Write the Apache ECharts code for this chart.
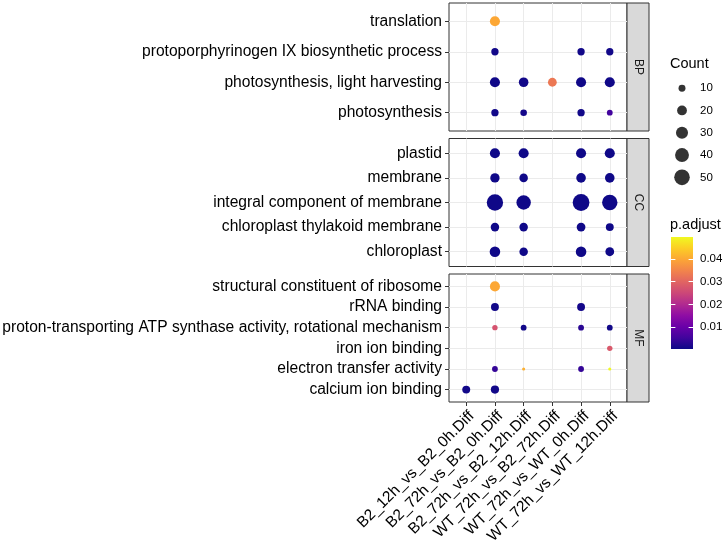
<!DOCTYPE html>
<html>
<head>
<meta charset="utf-8">
<script src="https://cdn.jsdelivr.net/npm/echarts@6/dist/echarts.min.js"></script>
<style>html,body{margin:0;padding:0;background:#fff;}#main{width:726px;height:543px;}</style>
</head>
<body>
<div id="main"></div>
<script>
// ---- data ----
const columns = ['B2_12h_vs_B2_0h.Diff','B2_72h_vs_B2_0h.Diff','B2_72h_vs_B2_12h.Diff','WT_72h_vs_B2_72h.Diff','WT_72h_vs_WT_0h.Diff','WT_72h_vs_WT_12h.Diff'];
const facets = ['BP','CC','MF'];

const bpTerms = ['translation','protoporphyrinogen IX biosynthetic process','photosynthesis, light harvesting','photosynthesis'];
const bpCount = [
  [null,21,null,null,null,null],
  [null,11,null,null,11,11],
  [null,21,19,16,21,21],
  [null,11,9,null,11,7]
];
const bpP = [
  [null,0.040,null,null,null,null],
  [null,0.0008,null,null,0.0008,0.0008],
  [null,0.0006,0.0008,0.033,0.0006,0.0006],
  [null,0.0008,0.0010,null,0.0008,0.0055]
];

const ccTerms = ['plastid','membrane','integral component of membrane','chloroplast thylakoid membrane','chloroplast'];
const ccCount = [
  [null,21,21,null,21,21],
  [null,18,15,null,19,19],
  [null,55,43,null,58,49],
  [null,15,15,null,16,13],
  [null,23,15,null,23,16]
];
const ccP = [
  [null,0.0005,0.0005,null,0.0005,0.0005],
  [null,0.0005,0.0005,null,0.0005,0.0005],
  [null,0.0005,0.0005,null,0.0005,0.0005],
  [null,0.0005,0.0005,null,0.0005,0.0005],
  [null,0.0005,0.0005,null,0.0005,0.0005]
];

const mfTerms = ['structural constituent of ribosome','rRNA binding','proton-transporting ATP synthase activity, rotational mechanism','iron ion binding','electron transfer activity','calcium ion binding'];
const mfCount = [
  [null,21,null,null,null,null],
  [null,13,null,null,13,null],
  [null,6,7,null,7,7],
  [null,null,null,null,null,6],
  [null,7,2,null,7,2],
  [13,14,null,null,null,null]
];
const mfP = [
  [null,0.040,null,null,null,null],
  [null,0.0008,null,null,0.0010,null],
  [null,0.027,0.0008,null,0.003,0.0008],
  [null,null,null,null,null,0.028],
  [null,0.004,0.041,null,0.004,0.0497],
  [0.0008,0.0008,null,null,null,null]
];

const legendCounts = [10,20,30,40,50];
const colorTicks = [0.01,0.02,0.03,0.04];
const pMin = 0.0003, pMax = 0.0497;
const plasma = ['#0D0887','#41049D','#6A00A8','#8F0DA4','#B12A90','#CC4778','#E16462','#F2844B','#FCA636','#FCCE25','#F0F921'];

// ---- layout ----
const FONT = "'Liberation Sans', Arial, Helvetica, sans-serif";
const panelLeft = 449, panelWidth = 178, panelHeight = 128;
const panelTops = [3, 138.5, 274];
const termsList = [bpTerms, ccTerms, mfTerms];
const countList = [bpCount, ccCount, mfCount];
const pList = [bpP, ccP, mfP];
const sizeOf = c => 2.2 * Math.sqrt(c);
const colIdx = columns.map((_, i) => i);

const grids = [], xAxes = [], yAxes = [], series = [], graphics = [];

panelTops.forEach((top, g) => {
  const terms = termsList[g];
  const rowIdx = terms.map((_, i) => i);
  grids.push({left: panelLeft, top: top, width: panelWidth, height: panelHeight, outerBoundsMode: 'none', containLabel: false,
    show: true, borderColor: '#333333', borderWidth: 1, backgroundColor: '#fff'});
  const isBottom = g === 2;
  xAxes.push({type: 'value', gridIndex: g, min: -0.6, max: columns.length - 0.4, position: 'bottom',
    axisLine: {show: false, onZero: false},
    axisTick: {show: isBottom, customValues: colIdx, length: 4, lineStyle: {color: '#333333'}},
    axisLabel: {show: isBottom, customValues: colIdx, formatter: v => columns[Math.round(v)] || '',
      rotate: 45, align: 'right', verticalAlign: 'top', margin: 6, fontSize: 15.5, color: '#000', fontFamily: FONT},
    splitLine: {show: true, lineStyle: {color: '#EBEBEB', width: 1}}
  });
  yAxes.push({type: 'value', gridIndex: g, inverse: true, min: -0.6, max: terms.length - 0.4, position: 'left',
    axisLine: {show: false, onZero: false},
    axisTick: {show: true, customValues: rowIdx, length: 4, lineStyle: {color: '#333333'}},
    axisLabel: {customValues: rowIdx, formatter: v => terms[Math.round(v)] || '',
      margin: 7, fontSize: 15.6, color: '#000', fontFamily: FONT},
    splitLine: {show: true, lineStyle: {color: '#EBEBEB', width: 1}}
  });
  const data = [];
  countList[g].forEach((row, r) => row.forEach((c, ci) => {
    if (c != null) data.push([ci, r, c, pList[g][r][ci]]);
  }));
  series.push({type: 'scatter', xAxisIndex: g, yAxisIndex: g, data: data,
    symbolSize: v => sizeOf(v[2]), itemStyle: {opacity: 1}, z: 5});
  // strip
  graphics.push({type: 'rect', shape: {x: panelLeft + panelWidth, y: top, width: 22, height: panelHeight},
    style: {fill: '#D9D9D9', stroke: '#333333', lineWidth: 1}});
  graphics.push({type: 'text', x: panelLeft + panelWidth + 11, y: top + panelHeight / 2, rotation: -Math.PI / 2,
    style: {text: facets[g], fill: '#1A1A1A', font: '12px ' + FONT, textAlign: 'center', textVerticalAlign: 'middle'}});
});

// size legend
grids.push({left: 670, top: 77, width: 24, height: 111.5, show: false, outerBoundsMode: 'none'});
xAxes.push({type: 'value', gridIndex: 3, min: -1, max: 1, show: false});
yAxes.push({type: 'category', gridIndex: 3, inverse: true, position: 'right', data: legendCounts.map(String),
  axisLine: {show: false}, axisTick: {show: false}, splitLine: {show: false},
  axisLabel: {margin: 6, fontSize: 11.5, color: '#000', fontFamily: FONT}});
series.push({type: 'scatter', xAxisIndex: 3, yAxisIndex: 3,
  data: legendCounts.map((c, i) => [0, i, c]), symbolSize: v => sizeOf(v[2]),
  itemStyle: {color: '#000'}});

// colour bar
grids.push({left: 671, top: 237, width: 22, height: 112, show: true, borderWidth: 0, outerBoundsMode: 'none',
  backgroundColor: {type: 'linear', x: 0, y: 1, x2: 0, y2: 0,
    colorStops: plasma.map((c, i) => ({offset: i / (plasma.length - 1), color: c}))}});
xAxes.push({type: 'value', gridIndex: 4, min: 0, max: 1, show: false});
yAxes.push({type: 'value', gridIndex: 4, min: pMin, max: pMax, position: 'right',
  axisLine: {show: false, onZero: false}, splitLine: {show: false},
  axisTick: {show: true, inside: true, length: 4.4, customValues: colorTicks, lineStyle: {color: '#fff', width: 1}},
  axisLabel: {customValues: colorTicks, formatter: v => v.toFixed(2), margin: 7, fontSize: 11.5, color: '#000', fontFamily: FONT}});
yAxes.push({type: 'value', gridIndex: 4, min: pMin, max: pMax, position: 'left',
  axisLine: {show: false, onZero: false}, splitLine: {show: false},
  axisTick: {show: true, inside: true, length: 4.4, customValues: colorTicks, lineStyle: {color: '#fff', width: 1}},
  axisLabel: {show: false}});

// legend titles
graphics.push({type: 'text', x: 670, y: 64, style: {text: 'Count', fill: '#000', font: '14.5px ' + FONT, textVerticalAlign: 'middle'}});
graphics.push({type: 'text', x: 670, y: 225, style: {text: 'p.adjust', fill: '#000', font: '14.5px ' + FONT, textVerticalAlign: 'middle'}});

const chart = echarts.init(document.getElementById('main'), null, {renderer: 'canvas'});
chart.setOption({
  backgroundColor: '#fff',
  animation: false,
  textStyle: {fontFamily: FONT},
  grid: grids, xAxis: xAxes, yAxis: yAxes,
  visualMap: {type: 'continuous', show: false, dimension: 3, min: pMin, max: pMax,
    seriesIndex: [0, 1, 2], inRange: {color: plasma}},
  series: series,
  graphic: graphics
});
</script>
</body>
</html>
